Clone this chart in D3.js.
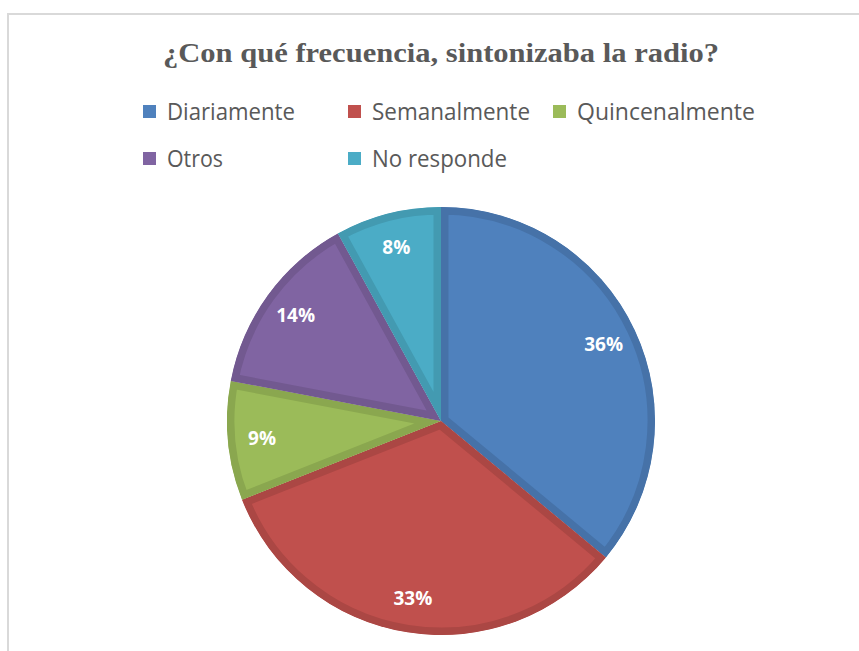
<!DOCTYPE html>
<html><head><meta charset="utf-8">
<script src="https://cdn.jsdelivr.net/npm/d3@7"></script>
<style>body{margin:0;background:#fff;} svg{display:block;}</style>
</head><body>
<svg id="chart" width="859" height="651"></svg>
<script>
const categories = ["Diariamente", "Semanalmente", "Quincenalmente", "Otros", "No responde"];
const values = [36, 33, 9, 14, 8];
const fillColors = ["#4F81BD", "#C0504D", "#9BBB59", "#8064A2", "#4BACC6"];
const strokeColors = ["#4672A8", "#AB4744", "#8AA74F", "#725990", "#439AB1"];
const title = "¿Con qué frecuencia, sintonizaba la radio?";

const svg = d3.select("#chart");
// frame
svg.append("path").attr("d", "M8,651 V14 H859").attr("fill","none").attr("stroke","#d9d9d9").attr("stroke-width",2);

svg.append("text").attr("x", 441).attr("y", 62).attr("text-anchor","middle")
  .attr("font-family","'Liberation Serif', serif").attr("font-weight","bold")
  .attr("font-size", 27).attr("fill","#595959")
  .attr("textLength", 556).attr("lengthAdjust","spacingAndGlyphs")
  .text(title);

// legend
const legendPos = [[143,111],[348,111],[553,111],[143,158],[348,158]];
const legendW = [128, 158, 178, 56, 135];
const lg = svg.append("g");
categories.forEach((c,i)=>{
  const [x,y] = legendPos[i];
  lg.append("rect").attr("x", x).attr("y", y-6).attr("width", 13).attr("height", 13).attr("fill", fillColors[i]);
  lg.append("text").attr("x", x+24).attr("y", y+1).attr("dy","0.35em")
    .attr("font-family","'Liberation Sans Narrow', 'Open Sans', sans-serif").attr("font-size", 23).attr("fill","#595959")
    .attr("textLength", legendW[i]).attr("lengthAdjust","spacingAndGlyphs")
    .text(c);
});

const cx = 441, cy = 421, R = 214;
const pie = d3.pie().sort(null).value(d=>d);
const arcs = pie(values);
const arc = d3.arc().innerRadius(0).outerRadius(R);
const g = svg.append("g").attr("transform", `translate(${cx},${cy})`);
const defs = svg.append("defs");
arcs.forEach((a,i)=>{
  defs.append("clipPath").attr("id","clip"+i).append("path").attr("d", arc(a));
  g.append("path").attr("d", arc(a)).attr("fill", fillColors[i])
    .attr("stroke", strokeColors[i]).attr("stroke-width", 15).attr("stroke-linejoin","miter")
    .attr("clip-path", `url(#clip${i})`);
});
const labelArc = d3.arc().innerRadius(R*0.84).outerRadius(R*0.84);
g.selectAll("text.lbl").data(arcs).join("text").attr("class","lbl")
  .attr("transform", d=>`translate(${labelArc.centroid(d)})`)
  .attr("text-anchor","middle").attr("dy","0.35em")
  .attr("font-family","'Open Sans', sans-serif").attr("font-weight","bold").attr("font-size", 19)
  .attr("fill","#fff").text(d=>d.data + "%");
</script>
</body></html>
